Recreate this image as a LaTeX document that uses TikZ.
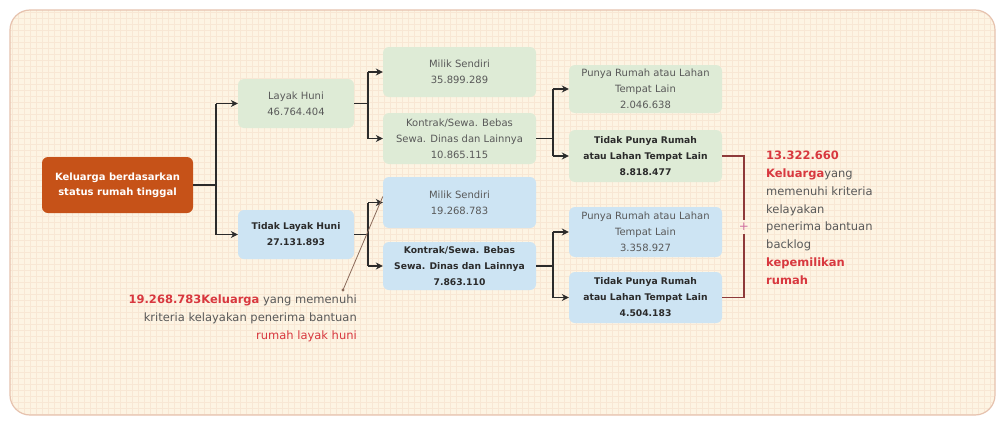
\documentclass[tikz,border=0pt]{standalone}
\usepackage{fontspec}
\setmainfont{DejaVu Sans}
\usetikzlibrary{arrows.meta,calc}
\definecolor{cream}{HTML}{FDF4E3}
\definecolor{gridc}{HTML}{F8E7D4}
\definecolor{framec}{HTML}{E6C2AE}
\definecolor{rootc}{HTML}{C65218}
\definecolor{boxgreen}{HTML}{DEEBD6}
\definecolor{boxblue}{HTML}{CDE4F3}
\definecolor{txtgray}{HTML}{595959}
\definecolor{txtdark}{HTML}{2B2B2B}
\definecolor{redt}{HTML}{D8383F}
\definecolor{brkc}{HTML}{8E3A3A}
\definecolor{plusc}{HTML}{D070A0}
\definecolor{ptrc}{HTML}{8A6A5A}
\tikzset{
  box/.style={rounded corners=6pt, align=center, inner sep=1pt, text=txtgray,
    font=\fontsize{10}{16}\selectfont},
  gbox/.style={box, fill=boxgreen},
  bbox/.style={box, fill=boxblue},
  bold/.style={text=txtdark, font=\fontsize{9.2}{16}\selectfont\bfseries},
  conn/.style={line width=1.6pt, draw=txtdark},
  arr/.style={conn, -{Stealth[length=7pt,width=7pt]}},
  brk/.style={line width=1.2pt, draw=brkc},
}
\begin{document}
\begin{tikzpicture}[x=1pt,y=-1pt]
\useasboundingbox (0,0) rectangle (1003,423);
\fill[white] (0,0) rectangle (1003,423);
\begin{scope}
\clip[rounded corners=20pt] (10,10) rectangle (995,415);
\fill[cream] (0,0) rectangle (1003,423);
\draw[gridc, line width=0.3pt, step=6pt] (0,0) grid (1003,423);
\end{scope}
\draw[framec, line width=1.2pt, rounded corners=20pt] (10,10) rectangle (995,415);

% nodes
\node[box, fill=rootc, text=white, minimum width=151pt, minimum height=56pt,
  font=\fontsize{10}{15}\selectfont\bfseries] (root) at (117.5,185)
  {Keluarga berdasarkan\\status rumah tinggal};
\node[gbox, minimum width=116pt, minimum height=49pt] (lh) at (296,103.5) {Layak Huni\\46.764.404};
\node[bbox, bold, minimum width=116pt, minimum height=49pt] (tlh) at (296,234.5) {Tidak Layak Huni\\27.131.893};
\node[gbox, minimum width=153pt, minimum height=50pt] (msg) at (459.5,72) {Milik Sendiri\\35.899.289};
\node[gbox, minimum width=153pt, minimum height=51pt] (kg) at (459.5,138.5) {Kontrak/Sewa. Bebas\\Sewa. Dinas dan Lainnya\\10.865.115};
\node[bbox, minimum width=153pt, minimum height=51pt] (msb) at (459.5,202.5) {Milik Sendiri\\19.268.783};
\node[bbox, bold, minimum width=153pt, minimum height=48pt] (kb) at (459.5,266) {Kontrak/Sewa. Bebas\\Sewa. Dinas dan Lainnya\\7.863.110};
\node[gbox, minimum width=153pt, minimum height=48pt] (pg) at (645.5,89) {Punya Rumah atau Lahan\\Tempat Lain\\2.046.638};
\node[gbox, bold, minimum width=153pt, minimum height=52pt] (tpg) at (645.5,156) {Tidak Punya Rumah\\atau Lahan Tempat Lain\\8.818.477};
\node[bbox, minimum width=153pt, minimum height=50pt] (pb) at (645.5,232) {Punya Rumah atau Lahan\\Tempat Lain\\3.358.927};
\node[bbox, bold, minimum width=153pt, minimum height=51pt] (tpb) at (645.5,297.5) {Tidak Punya Rumah\\atau Lahan Tempat Lain\\4.504.183};

% connectors
\coordinate (j0) at ($(root.east)+(23,0)$);
\draw[conn] (root.east) -- (j0);
\draw[conn] (j0 |- lh.west) -- (j0 |- tlh.west);
\draw[arr] (j0 |- lh.west) -- (lh.west);
\draw[arr] (j0 |- tlh.west) -- (tlh.west);

\coordinate (j1) at ($(lh.east)+(14,0)$);
\draw[conn] (lh.east) -- (j1);
\draw[conn] (j1 |- msg.west) -- (j1 |- kg.west);
\draw[arr] (j1 |- msg.west) -- (msg.west);
\draw[arr] (j1 |- kg.west) -- (kg.west);

\coordinate (j2) at ($(tlh.east)+(14,0)$);
\draw[conn] (tlh.east) -- (j2);
\draw[conn] (j2 |- msb.west) -- (j2 |- kb.west);
\draw[arr] (j2 |- msb.west) -- (msb.west);
\draw[arr] (j2 |- kb.west) -- (kb.west);

\coordinate (j3) at ($(kg.east)+(17,0)$);
\draw[conn] (kg.east) -- (j3);
\draw[conn] (j3 |- pg.west) -- (j3 |- tpg.west);
\draw[arr] (j3 |- pg.west) -- (pg.west);
\draw[arr] (j3 |- tpg.west) -- (tpg.west);

\coordinate (j4) at ($(kb.east)+(17,0)$);
\draw[conn] (kb.east) -- (j4);
\draw[conn] (j4 |- pb.west) -- (j4 |- tpb.west);
\draw[arr] (j4 |- pb.west) -- (pb.west);
\draw[arr] (j4 |- tpb.west) -- (tpb.west);

% bracket with plus
\node[text=plusc, font=\fontsize{12}{12}\selectfont, inner sep=3pt] (plus) at (744,227) {+};
\draw[brk] (tpg.east) -| (plus.north);
\draw[brk] (tpb.east) -| (plus.south);

% right text
\node[anchor=north west, align=left, inner sep=0pt, text=txtgray,
  font=\fontsize{11.5}{17.8}\selectfont] (rtext) at (766,151)
  {{\color{redt}\bfseries 13.322.660}\\
   {\color{redt}\bfseries Keluarga}yang\\
   memenuhi kriteria\\
   kelayakan\\
   penerima bantuan\\
   backlog\\
   {\color{redt}\bfseries kepemilikan}\\
   {\color{redt}\bfseries rumah}};

% bottom annotation with pointer
\node[anchor=north east, align=right, inner sep=0pt, text=txtgray,
  font=\fontsize{11.5}{18}\selectfont] (atext) at (357,295)
  {{\color{redt}\bfseries 19.268.783Keluarga} yang memenuhi\\
   kriteria kelayakan penerima bantuan\\
   {\color{redt}rumah layak huni}};
\coordinate (pdot) at (343,290);
\draw[ptrc, line width=0.8pt] (pdot) -- ([yshift=6pt]msb.west);
\fill[ptrc] (pdot) circle (1.6pt);
\end{tikzpicture}
\end{document}
